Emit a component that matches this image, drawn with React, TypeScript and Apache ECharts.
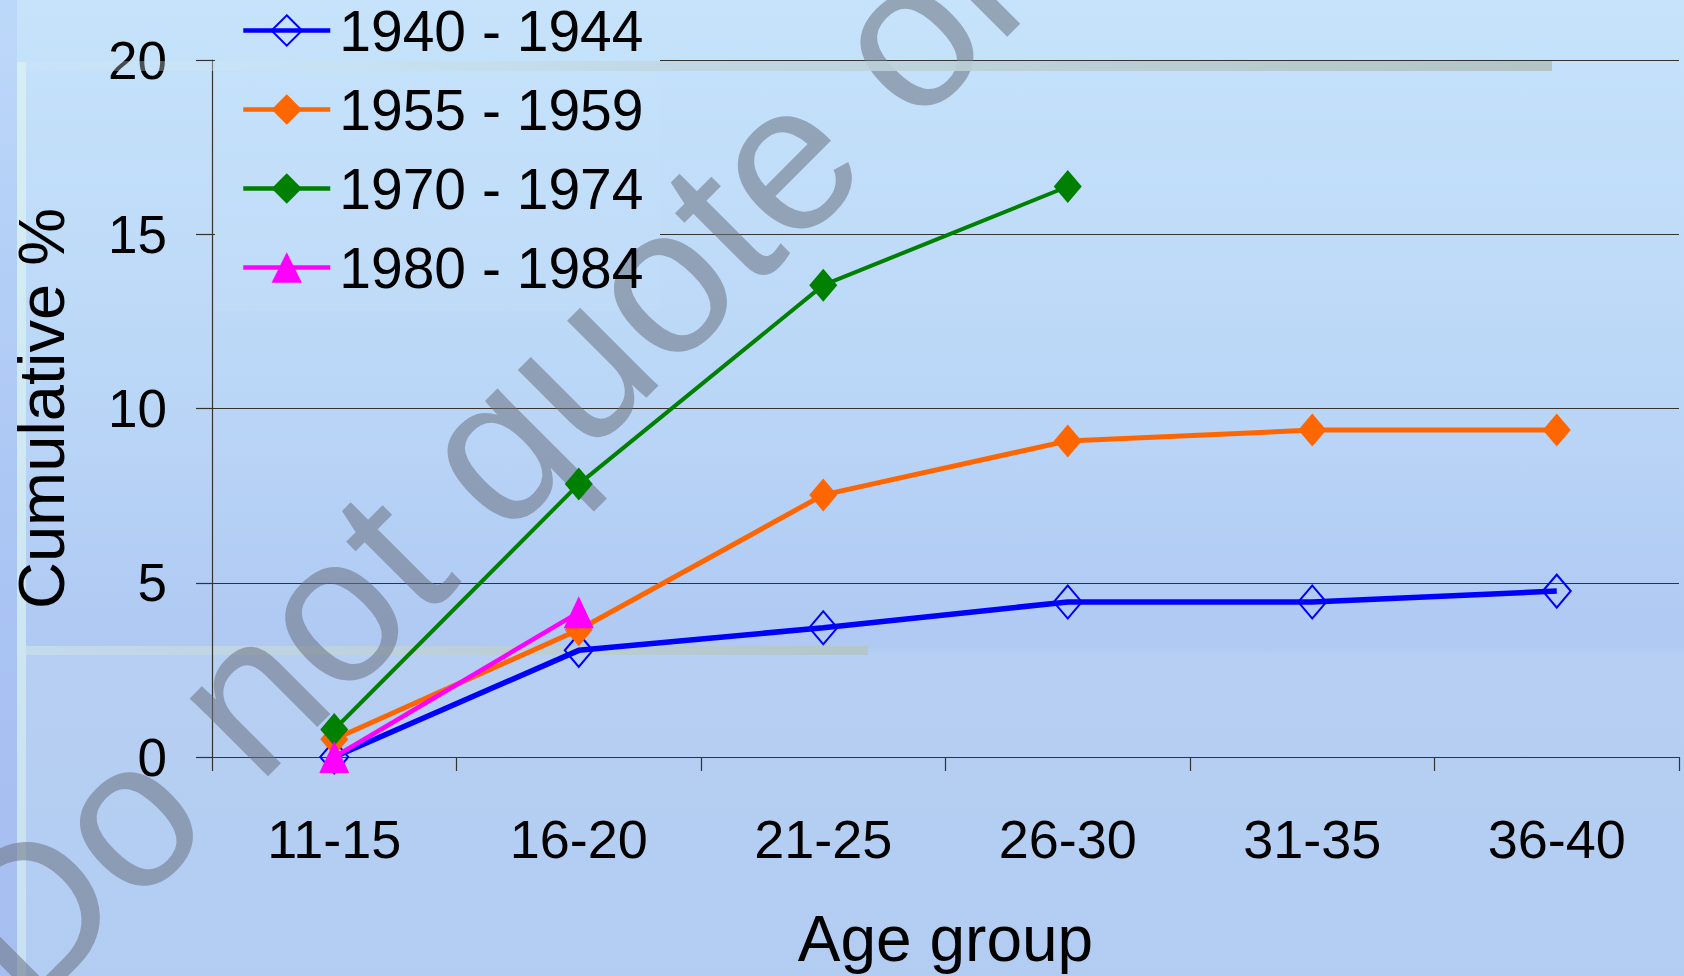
import { useEffect, useRef } from "react";
import * as echarts from "echarts";

const ageGroups = ["11-15", "16-20", "21-25", "26-30", "31-35", "36-40"];
const seriesNames = ["1940 - 1944", "1955 - 1959", "1970 - 1974", "1980 - 1984"];
const cohort1940 = [0, 3.06, 3.71, 4.45, 4.45, 4.76];
const cohort1955 = [0.51, 3.65, 7.52, 9.07, 9.38, 9.38];
const cohort1970 = [0.79, 7.83, 13.54, 16.37, null, null];
const cohort1980 = [0, 4.15, null, null, null, null];
const yMin = 0;
const yMax = 20;
const yInterval = 5;
const xTitle = "Age group";
const yTitle = "Cumulative %";
const watermark = "Do not quote or cite";

const FONT = '"Liberation Sans", Arial, sans-serif';
const lineColors = ["#0000ff", "#ff6600", "#008000", "#ff00ff"];
const lineWidths = [5.5, 5, 4, 4.5];

export default function App() {
  const ref = useRef<HTMLDivElement>(null);

  useEffect(() => {
    if (!ref.current) return;
    const chart = echarts.init(ref.current, undefined, { renderer: "svg" });

    const diamondSize = [28, 33];
    const option: any = {
      animation: false,
      backgroundColor: "transparent",
      textStyle: { fontFamily: FONT, color: "#000" },
      grid: { left: 212, right: 5, top: 60, bottom: 216, containLabel: false },
      legend: {
        data: seriesNames.map((name, i) => ({
          name,
          lineStyle: { width: 4.5, color: lineColors[i] },
        })),
        orient: "vertical",
        left: 215,
        top: 0,
        padding: [2, 0, 0, 26],
        itemWidth: 87,
        itemHeight: 38,
        itemGap: 22,
        selectedMode: false,
        z: 4,
        textStyle: {
          fontFamily: FONT,
          fontSize: 57,
          color: "#000",
          padding: [0, 0, 0, 4],
        },
      },
      xAxis: {
        type: "category",
        data: ageGroups,
        boundaryGap: true,
        name: xTitle,
        nameLocation: "middle",
        nameGap: 150,
        nameTextStyle: { fontFamily: FONT, fontSize: 64, color: "#000" },
        axisLine: { show: true, lineStyle: { color: "#333", width: 1.2 } },
        axisTick: { show: true, length: 14, lineStyle: { color: "#333", width: 1.2 } },
        axisLabel: { fontFamily: FONT, fontSize: 54, color: "#000", margin: 55 },
        splitLine: { show: false },
      },
      yAxis: {
        type: "value",
        min: yMin,
        max: yMax,
        interval: yInterval,
        name: yTitle,
        nameLocation: "middle",
        nameGap: 138,
        nameRotate: 90,
        nameTextStyle: { fontFamily: FONT, fontSize: 65, color: "#000" },
        axisLine: { show: true, lineStyle: { color: "#333", width: 1.2 } },
        axisTick: { show: true, length: 16, lineStyle: { color: "#333", width: 1.2 } },
        axisLabel: { fontFamily: FONT, fontSize: 53, color: "#000", margin: 45 },
        splitLine: { show: true, lineStyle: { color: "#333", width: 1.2 } },
      },
      graphic: {
        elements: [
          {
            type: "rect",
            z: 0.5,
            silent: true,
            shape: { x: 215, y: 0, width: 445, height: 311 },
            style: {
              fill: new echarts.graphic.LinearGradient(0, 0, 0, 1, [
                { offset: 0, color: "#c6e3fb" },
                { offset: 1, color: "#bfdbf8" },
              ]),
            },
          },
          {
            type: "group",
            x: 137,
            y: 830,
            rotation: Math.PI / 4,
            z: 1,
            silent: true,
            children: [
              {
                type: "text",
                x: -209,
                y: -18,
                z: 1,
                style: {
                  text: watermark,
                  font: '209px "Liberation Sans", Arial, sans-serif',
                  fill: "rgba(107,115,130,0.55)",
                  align: "left",
                  verticalAlign: "middle",
                },
              },
            ],
          },
          {
            type: "rect",
            z: 10,
            silent: true,
            shape: { x: 26, y: 61, width: 1526, height: 10 },
            style: {
              fill: new echarts.graphic.LinearGradient(0, 0, 1, 0, [
                { offset: 0, color: "rgba(210,232,244,0.25)" },
                { offset: 0.15, color: "rgba(205,228,240,0.45)" },
                { offset: 0.42, color: "rgba(192,214,224,0.85)" },
                { offset: 1, color: "#b2c4c4" },
              ]),
            },
          },
        ],
      },
      series: [
        {
          name: seriesNames[0],
          type: "line",
          data: cohort1940,
          color: lineColors[0],
          symbol: "diamond",
          symbolSize: diamondSize,
          lineStyle: { color: lineColors[0], width: lineWidths[0] },
          itemStyle: { color: "rgba(0,0,0,0)", borderColor: lineColors[0], borderWidth: 2 },
          z: 2,
        },
        {
          name: seriesNames[1],
          type: "line",
          data: cohort1955,
          color: lineColors[1],
          symbol: "diamond",
          symbolSize: diamondSize,
          lineStyle: { color: lineColors[1], width: lineWidths[1] },
          itemStyle: { color: lineColors[1] },
          z: 3,
        },
        {
          name: seriesNames[2],
          type: "line",
          data: cohort1970,
          color: lineColors[2],
          symbol: "diamond",
          symbolSize: diamondSize,
          lineStyle: { color: lineColors[2], width: lineWidths[2] },
          itemStyle: { color: lineColors[2] },
          z: 3,
        },
        {
          name: seriesNames[3],
          type: "line",
          data: cohort1980,
          color: lineColors[3],
          symbol: "triangle",
          symbolSize: [30, 32],
          lineStyle: { color: lineColors[3], width: lineWidths[3] },
          itemStyle: { color: lineColors[3] },
          z: 3,
        },
      ],
    };

    chart.setOption(option);
    return () => chart.dispose();
  }, []);

  return (
    <div
      style={{
        position: "fixed",
        left: 0,
        top: 0,
        width: 1684,
        height: 976,
        overflow: "hidden",
        background:
          "linear-gradient(180deg, #c6e3fb 0px, #bbd7f7 380px, #afc9f3 646px, #b6cff2 655px, #b3cdf2 976px)",
      }}
    >
      <div
        style={{
          position: "absolute",
          left: 0,
          top: 0,
          width: 17,
          height: 976,
          background: "linear-gradient(180deg, #bcd8f9 0px, #a9c3f3 600px, #a6bef0 976px)",
        }}
      />
      <div
        style={{
          position: "absolute",
          left: 17,
          top: 62,
          width: 9,
          height: 914,
          background: "linear-gradient(180deg, #d6eef2 0px, #c8e0f0 914px)",
        }}
      />
      <div
        style={{
          position: "absolute",
          left: 26,
          top: 646,
          width: 842,
          height: 9,
          background: "linear-gradient(90deg, rgba(200,222,236,0.8) 0px, #b4c6c9 842px)",
        }}
      />
      <div
        ref={ref}
        style={{ position: "absolute", left: 0, top: 0, width: 1684, height: 976 }}
      />
    </div>
  );
}
